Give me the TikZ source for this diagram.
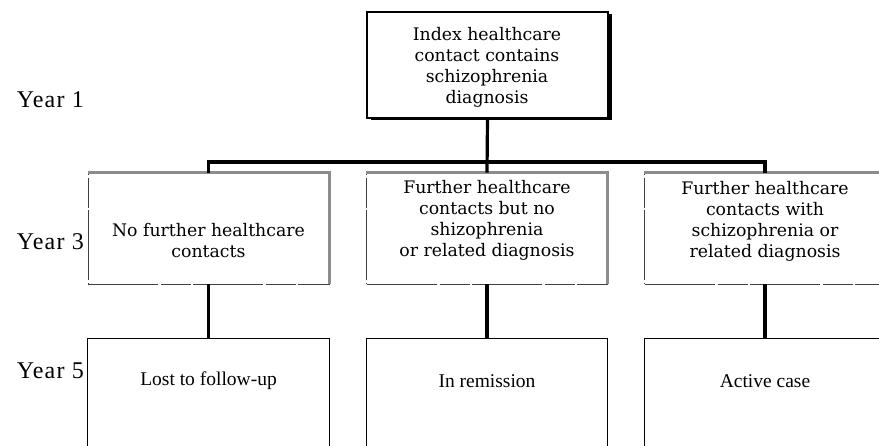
\documentclass[tikz,border=0pt]{standalone}
\usepackage{fontspec}
\setmainfont{Liberation Serif}
\newfontfamily\boxfont{DejaVu Serif}
\newfontfamily\yearfont[LetterSpace=5]{Liberation Serif}
\usetikzlibrary{shadows}
\tikzstyle{yearlabel}=[anchor=east,inner sep=0pt,font=\yearfont\fontsize{24}{28}\selectfont]
\tikzstyle{topbox}=[draw,line width=1.1pt,fill=white,minimum width=241pt,minimum height=106pt,drop shadow={shadow xshift=3.5pt,shadow yshift=-2pt,fill=black,opacity=1}]
\tikzstyle{midbox}=[draw=black!75,line width=0.6pt,dash pattern=on 70pt off 3pt on 30pt off 2pt,minimum width=241pt,minimum height=111pt]
\tikzstyle{greyedge}=[draw,line width=3pt,black!45]
\tikzstyle{boxtext}=[align=center,inner sep=0pt,font=\boxfont\fontsize{17.3}{21}\selectfont]
\tikzstyle{endbox}=[minimum width=241pt,minimum height=84pt,font=\fontsize{19.5}{23}\selectfont]
\tikzstyle{endframe}=[draw,line width=0.9pt]
\tikzstyle{link}=[draw,line width=3.2pt,-]

\begin{document}
\begin{tikzpicture}[x=1pt,y=1pt]
    \useasboundingbox (0,0) rectangle (879,-445);
    % years
    \foreach \y/\name/\txt in {-100/yone/Year 1, -242/ythree/Year 3, -371/yfive/Year 5}
        \node[yearlabel] (\name) at (84,\y) {\txt};
    % index
    \node[topbox] (index) at (487.5,-65) {};
    \node[boxtext] (index-txt) at (487,-67) {Index healthcare\\contact contains\\schizophrenia\\diagnosis};
    % year 3
    \foreach \name/\x/\dy/\txt in {none/208.5/-12/{No further healthcare\\contacts}, other/487/8/{Further healthcare\\contacts but no\\shizophrenia\\or related diagnosis}, schiz/765/7/{Further healthcare\\contacts with\\schizophrenia or\\related diagnosis}}
    {
        \node[midbox] (\name) at (\x,-228.5) {};
        \path[greyedge] (\name.north west) -- (\name.north east) -- (\name.south east);
        \node[boxtext] (\name-txt) at ([yshift=\dy]\name.center) {\txt};
    }
    % year 5
    \foreach \name/\x/\txt in {lost/208.5/Lost to follow-up, remit/487/In remission, active/765/Active case}
    {
        \node[endbox] (\name) at (\x,-381) {\txt};
        \path[endframe] ([yshift=-40pt]\name.south west) -- (\name.north west) -- (\name.north east) -- ([yshift=-40pt]\name.south east);
    }
    % links
    \coordinate (bar) at (0,-162);
    \path[link] (index.south) -- (other.north);
    \path[link] (none.north) -- (none.north |- bar) -- (schiz.north |- bar) -- (schiz.north);
    \foreach \source/\dest in {none/lost, other/remit, schiz/active}
        \path[link] (\source.south) -- (\dest.north);
\end{tikzpicture}
\end{document}
